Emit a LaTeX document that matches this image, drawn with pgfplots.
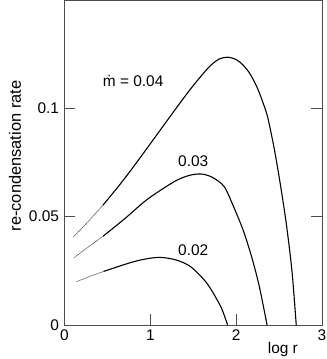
\documentclass[border=0pt]{standalone}
\usepackage{pgfplots}
\pgfplotsset{compat=1.18}
\usepackage{fontspec}
\setmainfont{Liberation Sans}
\begin{document}
\begin{tikzpicture}
\path[use as bounding box] (-64.5bp,-34bp) rectangle (262.5bp,325bp);
\begin{axis}[
  at={(0,0)}, anchor=south west,
  scale only axis, width=257.5bp, height=325bp,
  xmin=0, xmax=3, ymin=0, ymax=0.15,
  axis line style={black!70, line width=0.8pt},
  tick style={black!70, line width=0.8pt},
  tick align=inside, major tick length=11bp,
  xtick={0,1,2,3}, xticklabels={0,1,2,3},
  ytick={0,0.05,0.1}, yticklabels={0,0.05,0.1},
  xtick pos=bottom, ytick pos=both,
  /pgf/number format/assume math mode=true,
  ticklabel style={font=\fontsize{15.5}{17}\selectfont},
  xticklabel style={yshift=-1bp},
  yticklabel style={xshift=-2bp},
  ylabel={re-condensation rate},
  every axis y label/.style={at={([xshift=-49.5bp]axis description cs:0,0.52)}, rotate=90, anchor=center, font=\fontsize{16.5}{18}\selectfont},
  xlabel={log r},
  every axis x label/.style={at={(axis description cs:0.848,0)}, anchor=north, inner sep=0pt, yshift=-17bp, font=\fontsize{15.5}{17}\selectfont},
  clip=false,
]
% m = 0.04
\addplot[black!80, line width=0.6pt, dash pattern=on 0.6pt off 0.5pt, smooth] coordinates {
(0.10,0.0405)(0.27,0.0475)(0.45,0.0554)};
\addplot[black, line width=1.1pt, smooth] coordinates {
(0.45,0.0554)(0.62,0.0636)(0.79,0.0723)(1.05,0.0864)(1.30,0.1000)(1.46,0.1085)(1.60,0.1153)(1.70,0.1197)(1.80,0.1227)(1.90,0.1236)(2.00,0.1225)(2.08,0.1200)(2.16,0.1160)(2.24,0.1100)(2.30,0.1040)(2.36,0.0970)(2.40,0.0900)(2.45,0.0800)(2.50,0.0685)(2.55,0.0560)(2.59,0.0450)(2.65,0.0250)(2.70,0.0)};
% m = 0.03
\addplot[black!80, line width=0.6pt, dash pattern=on 0.6pt off 0.5pt, smooth] coordinates {
(0.11,0.0310)(0.27,0.0358)(0.45,0.0410)};
\addplot[black, line width=1.1pt, smooth] coordinates {
(0.45,0.0410)(0.70,0.0490)(0.965,0.0580)(1.28,0.0662)(1.45,0.0690)(1.59,0.0697)(1.72,0.0682)(1.86,0.0639)(1.97,0.0546)(2.08,0.0439)(2.18,0.0315)(2.27,0.0177)(2.36,0.0)};
% m = 0.02
\addplot[black!80, line width=0.6pt, dash pattern=on 0.6pt off 0.5pt, smooth] coordinates {
(0.14,0.0200)(0.30,0.0225)(0.46,0.0248)};
\addplot[black, line width=1.1pt, smooth] coordinates {
(0.46,0.0248)(0.77,0.0288)(0.95,0.0305)(1.12,0.0312)(1.30,0.0300)(1.47,0.0269)(1.66,0.0192)(1.82,0.0085)(1.90,0.0)};
\node[font=\fontsize{15.5}{17}\selectfont] at (axis cs:0.80,0.1127) {\.{m} = 0.04};
\node[font=\fontsize{15.5}{17}\selectfont] at (axis cs:1.50,0.0754) {0.03};
\node[font=\fontsize{15.5}{17}\selectfont] at (axis cs:1.50,0.0346) {0.02};
\end{axis}
\end{tikzpicture}
\end{document}
